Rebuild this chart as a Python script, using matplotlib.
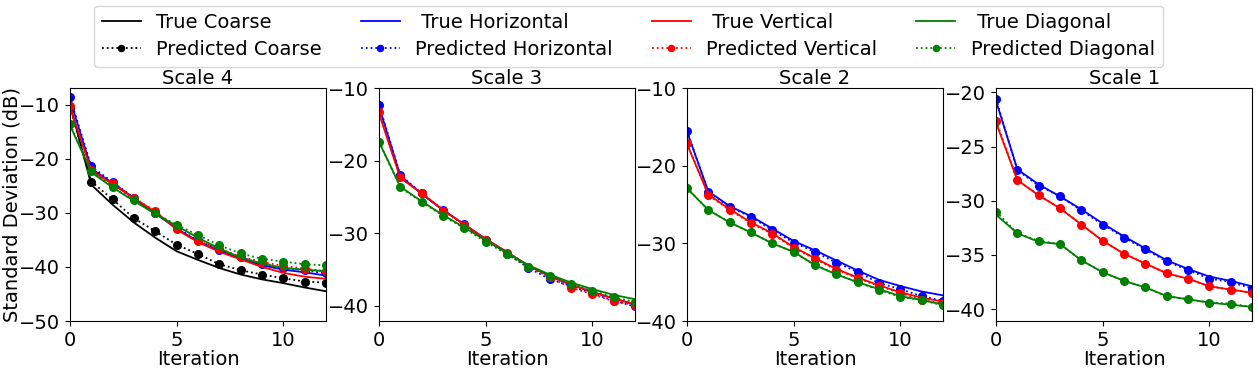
#!/usr/bin/env python3
"""Standard deviation per wavelet scale: true vs predicted"""
import matplotlib
matplotlib.use('Agg')
import matplotlib.pyplot as plt

iterations = list(range(13))

# Scale 4
s4_true_coarse = [-10.0, -24.8, -28.5, -31.8, -34.6, -37.1, -38.7, -40.2, -41.4, -42.3, -43.0, -43.8, -44.5]
s4_pred_coarse = [-10.5, -24.2, -27.5, -31.0, -33.4, -35.9, -37.6, -39.5, -40.6, -41.4, -42.1, -42.7, -42.9]
s4_true_horiz = [-9.0, -21.8, -24.5, -27.3, -30.1, -32.9, -35.3, -37.0, -38.5, -39.7, -40.5, -41.0, -41.6]
s4_pred_horiz = [-8.6, -21.4, -24.3, -27.2, -30.0, -32.8, -35.1, -36.8, -38.2, -39.4, -40.2, -40.6, -41.2]
s4_true_vert = [-10.5, -22.2, -24.7, -27.3, -29.8, -33.1, -35.4, -37.2, -38.6, -40.0, -41.1, -41.8, -42.2]
s4_pred_vert = [-10.3, -22.0, -24.5, -27.2, -29.7, -33.0, -35.2, -36.6, -38.1, -39.1, -39.8, -40.3, -40.8]
s4_true_diag = [-13.8, -22.5, -25.3, -27.8, -30.2, -32.4, -34.6, -36.6, -38.3, -39.4, -40.2, -40.5, -40.8]
s4_pred_diag = [-13.6, -22.3, -25.2, -27.7, -30.1, -32.2, -34.1, -36.0, -37.5, -38.5, -39.0, -39.5, -39.7]

# Scale 3
s3_true_horiz = [-12.5, -22.1, -24.6, -26.8, -28.8, -30.8, -32.6, -34.5, -35.9, -37.1, -38.1, -39.0, -39.8]
s3_pred_horiz = [-12.3, -22.0, -24.5, -26.8, -28.8, -30.9, -32.8, -34.8, -36.3, -37.3, -38.3, -39.3, -40.1]
s3_true_vert = [-13.5, -22.4, -24.5, -26.8, -28.8, -30.8, -32.6, -34.5, -35.9, -37.1, -38.1, -39.0, -39.8]
s3_pred_vert = [-13.3, -22.3, -24.4, -26.9, -28.9, -30.9, -32.7, -34.6, -36.1, -37.5, -38.4, -39.4, -39.9]
s3_true_diag = [-17.4, -23.6, -25.6, -27.5, -29.2, -31.0, -32.7, -34.4, -35.7, -36.8, -37.7, -38.5, -39.1]
s3_pred_diag = [-17.4, -23.7, -25.7, -27.6, -29.3, -31.2, -32.9, -34.6, -35.9, -37.0, -37.9, -38.8, -39.5]

# Scale 2
s2_true_horiz = [-15.6, -23.3, -25.2, -26.5, -28.1, -29.7, -30.9, -32.2, -33.5, -34.7, -35.5, -36.2, -36.7]
s2_pred_horiz = [-15.5, -23.4, -25.3, -26.6, -28.3, -29.9, -31.1, -32.5, -33.7, -35.1, -35.9, -36.8, -37.4]
s2_true_vert = [-17.2, -23.7, -25.6, -27.3, -28.7, -30.5, -31.9, -33.3, -34.4, -35.4, -36.3, -37.0, -37.5]
s2_pred_vert = [-17.1, -23.8, -25.7, -27.4, -28.8, -30.6, -32.0, -33.4, -34.5, -35.5, -36.4, -37.3, -37.7]
s2_true_diag = [-22.9, -25.7, -27.3, -28.6, -30.0, -31.1, -32.8, -34.0, -35.0, -35.9, -36.8, -37.3, -37.9]
s2_pred_diag = [-22.9, -25.7, -27.3, -28.6, -30.0, -31.1, -32.8, -34.0, -35.0, -36.0, -36.9, -37.3, -38.0]

# Scale 1
s1_true_horiz = [-20.8, -27.1, -28.5, -29.6, -30.8, -32.1, -33.3, -34.4, -35.5, -36.3, -37.0, -37.4, -37.9]
s1_pred_horiz = [-20.6, -27.2, -28.6, -29.6, -30.9, -32.2, -33.4, -34.5, -35.6, -36.4, -37.2, -37.5, -38.1]
s1_true_vert = [-22.8, -28.1, -29.5, -30.7, -32.2, -33.7, -34.9, -35.8, -36.7, -37.2, -37.9, -38.2, -38.5]
s1_pred_vert = [-22.6, -28.1, -29.5, -30.7, -32.2, -33.7, -34.9, -35.8, -36.7, -37.2, -37.9, -38.2, -38.5]
s1_true_diag = [-31.3, -33.0, -33.8, -34.0, -35.5, -36.6, -37.4, -38.0, -38.8, -39.1, -39.4, -39.6, -39.8]
s1_pred_diag = [-31.0, -33.0, -33.7, -34.0, -35.5, -36.6, -37.4, -38.0, -38.8, -39.1, -39.4, -39.5, -39.8]

titles = ["Scale 4", "Scale 3", "Scale 2", "Scale 1"]
y_limits = [(-50, -6.9), (-42.1, -10), (-40, -10), (-41.1, -19.6)]
y_ticks = [[-50, -40, -30, -20, -10], [-40, -30, -20, -10],
           [-40, -30, -20, -10], [-40, -35, -30, -25, -20]]

panels = [
    [("black", "Coarse", s4_true_coarse, s4_pred_coarse),
     ("blue", "Horizontal", s4_true_horiz, s4_pred_horiz),
     ("red", "Vertical", s4_true_vert, s4_pred_vert),
     ("green", "Diagonal", s4_true_diag, s4_pred_diag)],
    [("blue", "Horizontal", s3_true_horiz, s3_pred_horiz),
     ("red", "Vertical", s3_true_vert, s3_pred_vert),
     ("green", "Diagonal", s3_true_diag, s3_pred_diag)],
    [("blue", "Horizontal", s2_true_horiz, s2_pred_horiz),
     ("red", "Vertical", s2_true_vert, s2_pred_vert),
     ("green", "Diagonal", s2_true_diag, s2_pred_diag)],
    [("blue", "Horizontal", s1_true_horiz, s1_pred_horiz),
     ("red", "Vertical", s1_true_vert, s1_pred_vert),
     ("green", "Diagonal", s1_true_diag, s1_pred_diag)],
]

plt.rcParams['font.size'] = 14

fig = plt.figure(figsize=(12.57, 3.68), dpi=100)
lefts = [0.0557, 0.3015, 0.5465, 0.7924]

handles = {}
for i, (title, series) in enumerate(zip(titles, panels)):
    ax = fig.add_axes([lefts[i], 0.1277, 0.2037, 0.633])
    for color, name, true_vals, pred_vals in series:
        h_true, = ax.plot(iterations, true_vals, color=color, linestyle='-', linewidth=1.3)
        h_pred, = ax.plot(iterations, pred_vals, color=color, linestyle=':', linewidth=1.3,
                          marker='o', markersize=5.5)
        handles[name] = (h_true, h_pred)
    ax.set_xlim(0, 12)
    ax.set_ylim(*y_limits[i])
    ax.set_xticks([0, 5, 10])
    ax.set_yticks(y_ticks[i])
    ax.set_title(title, fontsize=14, pad=3)
    ax.set_xlabel("Iteration", labelpad=0)
    ax.tick_params(labelsize=14)
    if i == 0:
        ax.set_ylabel("Standard Deviation (dB)")
        ax.yaxis.set_label_coords(-0.19, 0.5)

leg_handles = []
leg_labels = []
for name in ["Coarse", "Horizontal", "Vertical", "Diagonal"]:
    h_true, h_pred = handles[name]
    pad = "" if name == "Coarse" else " "
    leg_handles += [h_true, h_pred]
    leg_labels += [f"{pad}True {name}", f"Predicted {name}"]

fig.legend(leg_handles, leg_labels, loc='upper center', bbox_to_anchor=(0.5, 0.985),
           borderaxespad=0.0, ncol=4, fontsize=14, handlelength=2.0,
           columnspacing=2.0, labelspacing=0.4, borderpad=0.4, markerscale=0.8)

fig.savefig("out.png", dpi=100)
print("Saved out.png")
